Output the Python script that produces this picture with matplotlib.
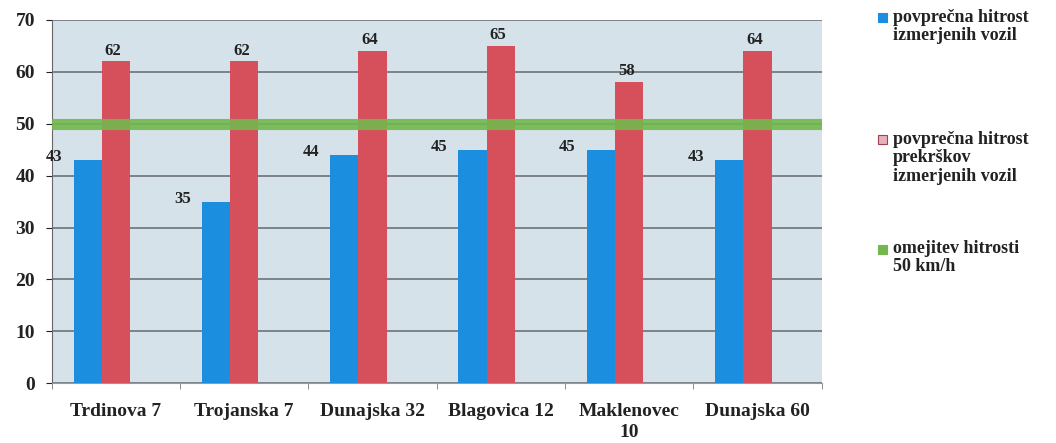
import numpy as np
import matplotlib
matplotlib.use('Agg')
import matplotlib.pyplot as plt
from matplotlib.patches import Rectangle

# Data
locations = ['Trdinova 7', 'Trojanska 7', 'Dunajska 32', 'Blagovica 12', 'Maklenovec\n10', 'Dunajska 60']
avg_speed = [43, 35, 44, 45, 45, 43]
avg_violation = [62, 62, 64, 65, 58, 64]
speed_limit = 50

labels = ['povprečna hitrost\nizmerjenih vozil',
          'povprečna hitrost\nprekrškov\nizmerjenih vozil',
          'omejitev hitrosti\n50 km/h']

blue = '#1b8ee0'
red = '#d6505c'
green = '#72b84e'

plt.rcParams['font.family'] = ['Liberation Serif', 'DejaVu Serif']
plt.rcParams['font.weight'] = 'bold'

fig = plt.figure(figsize=(10.56, 4.43), dpi=100)
ax = fig.add_axes([0.049, 0.135, 0.729, 0.82])
ax.set_facecolor('#d5e2ea')

x = np.arange(len(locations))
bw = 0.22
shift = -0.11  # bar pairs sit a little left of the category centre
ax.bar(x + shift - bw / 2, avg_speed, bw, color=blue, zorder=3)
ax.bar(x + shift + bw / 2, avg_violation, bw, color=red, zorder=3)
ax.axhline(speed_limit, color=green, lw=8, alpha=0.9, zorder=4)

for xi, v in zip(x, avg_speed):
    ax.annotate(str(v), (xi + shift - bw, v), xytext=(-8, 2), textcoords='offset points',
                ha='right', va='center', fontsize=12, fontweight='bold', color='#222222', zorder=5)
for xi, v in zip(x, avg_violation):
    ax.annotate(str(v), (xi + shift + bw / 2, v), xytext=(-2, 2), textcoords='offset points',
                ha='center', va='bottom', fontsize=12, fontweight='bold', color='#222222', zorder=5)

ax.set_xlim(-0.5, len(locations) - 0.5)
ax.set_ylim(0, 70)
ax.set_yticks(range(0, 71, 10))
ax.yaxis.grid(True, color='#6d7276', lw=1.2, zorder=1)
ax.set_xticks(x)
ax.set_xticklabels(locations, fontsize=14, fontweight='bold', color='#222222', linespacing=1.3)
ax.tick_params(axis='x', length=0, pad=14)
ax.tick_params(axis='y', length=4, labelsize=14, colors='#222222', pad=8)
ax.set_xticks(np.arange(-0.5, len(locations), 1), minor=True)
ax.tick_params(axis='x', which='minor', length=4, color='#777777')
for s in ['top', 'right']:
    ax.spines[s].set_visible(False)
ax.spines['left'].set_color('#666666')
ax.spines['bottom'].set_color('#999999')

# legend on the right: square key beside the first line of each label
key_colors = [(blue, blue), ('#e8b0b8', '#a04050'), (green, green)]
first_line_y = [18, 140, 249]  # pixel rows from the top
W, H = 1056, 443
for (fc, ec), lab, py in zip(key_colors, labels, first_line_y):
    yf = 1 - py / H
    fig.patches.append(Rectangle((878 / W, yf - 4.5 / H), 9 / W, 9 / H, transform=fig.transFigure,
                                 facecolor=fc, edgecolor=ec, lw=0.8))
    fig.text(893 / W, yf + 9 / H, lab, ha='left', va='top', fontsize=13, fontweight='bold',
             color='#222222', linespacing=1.1)

fig.savefig('out.png', dpi=100)
